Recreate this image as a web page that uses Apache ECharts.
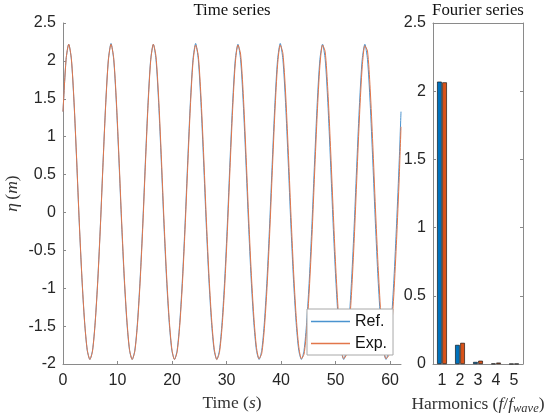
<!DOCTYPE html>
<html>
<head>
<meta charset="utf-8">
<script src="https://cdn.jsdelivr.net/npm/echarts@6/dist/echarts.min.js"></script>
<style>html,body{margin:0;padding:0;background:#fff;}#c{width:548px;height:418px;}</style>
</head>
<body>
<div id="c"></div>
<script>
// Time-series sample times (s)
var time = [0, 0.565,
1.05, 1.535, 2.02, 2.505, 2.99, 3.475, 3.96, 4.445, 4.93, 5.415, 5.9, 6.385, 6.87, 7.355, 7.84, 8.325,
8.81, 9.295, 9.78, 10.265, 10.75, 11.235, 11.72, 12.205, 12.69, 13.175, 13.66, 14.145, 14.63, 15.115, 15.6, 16.085,
16.57, 17.055, 17.54, 18.025, 18.51, 18.995, 19.48, 19.965, 20.45, 20.935, 21.42, 21.905, 22.39, 22.875, 23.36, 23.845,
24.33, 24.815, 25.3, 25.785, 26.27, 26.755, 27.24, 27.725, 28.21, 28.695, 29.18, 29.665, 30.15, 30.635, 31.12, 31.605,
32.09, 32.575, 33.06, 33.545, 34.03, 34.515, 35.0, 35.485, 35.97, 36.455, 36.94, 37.425, 37.91, 38.395, 38.88, 39.365,
39.85, 40.335, 40.82, 41.305, 41.79, 42.275, 42.76, 43.245, 43.73, 44.215, 44.7, 45.185, 45.67, 46.155, 46.64, 47.125,
47.61, 48.095, 48.58, 49.065, 49.55, 50.035, 50.52, 51.005, 51.49, 51.975, 52.46, 52.945, 53.43, 53.915, 54.4, 54.885,
55.37, 55.855, 56.34, 56.825, 57.31, 57.795, 58.28, 58.765, 59.25, 59.735, 60.22, 60.705, 61.19, 61.675,
62];

// Reference surface elevation (m)
var etaRef = [1.33, 2.02,
2.22, 2.02, 1.45, 0.68, -0.15, -0.88, -1.45, -1.82, -1.94, -1.82, -1.45, -0.88, -0.15, 0.68, 1.45, 2.02,
2.23, 2.02, 1.45, 0.68, -0.15, -0.88, -1.45, -1.82, -1.94, -1.82, -1.45, -0.88, -0.15, 0.68, 1.45, 2.02,
2.22, 2.02, 1.45, 0.68, -0.15, -0.88, -1.45, -1.82, -1.94, -1.82, -1.45, -0.88, -0.15, 0.68, 1.45, 2.02,
2.23, 2.02, 1.45, 0.68, -0.15, -0.88, -1.45, -1.82, -1.94, -1.82, -1.45, -0.88, -0.15, 0.68, 1.45, 2.02,
2.22, 2.02, 1.45, 0.68, -0.15, -0.88, -1.45, -1.82, -1.94, -1.82, -1.45, -0.88, -0.15, 0.68, 1.45, 2.02,
2.23, 2.02, 1.45, 0.68, -0.15, -0.88, -1.45, -1.82, -1.94, -1.82, -1.45, -0.88, -0.15, 0.68, 1.45, 2.02,
2.22, 2.02, 1.45, 0.68, -0.15, -0.88, -1.45, -1.82, -1.94, -1.82, -1.45, -0.88, -0.15, 0.68, 1.45, 2.02,
2.22, 2.02, 1.45, 0.68, -0.15, -0.88, -1.45, -1.82, -1.94, -1.82, -1.45, -0.88, -0.15, 0.68,
1.33];

// Experimental surface elevation (m)
var etaExp = [1.33, 2.02,
2.22, 2.03, 1.47, 0.70, -0.13, -0.86, -1.44, -1.81, -1.94, -1.83, -1.46, -0.90, -0.17, 0.66, 1.43, 2.01,
2.22, 2.04, 1.49, 0.73, -0.10, -0.84, -1.42, -1.81, -1.94, -1.83, -1.48, -0.92, -0.20, 0.63, 1.41, 2.00,
2.22, 2.06, 1.52, 0.76, -0.08, -0.82, -1.41, -1.80, -1.94, -1.84, -1.49, -0.94, -0.22, 0.60, 1.39, 1.98,
2.21, 2.07, 1.54, 0.79, -0.05, -0.80, -1.39, -1.79, -1.94, -1.85, -1.51, -0.97, -0.25, 0.58, 1.36, 1.97,
2.21, 2.09, 1.57, 0.81, -0.02, -0.77, -1.37, -1.78, -1.93, -1.86, -1.53, -0.99, -0.28, 0.55, 1.34, 1.95,
2.21, 2.10, 1.59, 0.84, 0.01, -0.75, -1.36, -1.77, -1.93, -1.87, -1.54, -1.01, -0.31, 0.52, 1.31, 1.94,
2.21, 2.12, 1.61, 0.87, 0.04, -0.73, -1.34, -1.76, -1.93, -1.88, -1.56, -1.04, -0.34, 0.49, 1.29, 1.92,
2.20, 2.13, 1.64, 0.90, 0.06, -0.70, -1.32, -1.75, -1.93, -1.89, -1.58, -1.06, -0.36, 0.46,
1.13];

// Fourier harmonics
var harmonics = ['1', '2', '3', '4', '5'];
var ampRef = [2.07, 0.140, 0.015, 0.003, 0.001];
var ampExp = [2.065, 0.155, 0.024, 0.010, 0.002];

function pairs(xs, ys) { var o = []; for (var i = 0; i < xs.length; i++) o.push([xs[i], ys[i]]); return o; }

var SANS = 'Liberation Sans, Arial, sans-serif';
var SERIF = 'Liberation Serif, Times New Roman, serif';
var AX = '#8a8a8a';
var TXT = '#262626';
var NAMEC = '#333';
var C_REF = '#4a93cf', C_EXP = '#e2764a';

var richName = {
  n: {fontFamily: SERIF, fontSize: 17.5, color: NAMEC},
  i: {fontFamily: SERIF, fontSize: 17.5, fontStyle: 'italic', color: NAMEC},
  s: {fontFamily: SERIF, fontSize: 12.5, fontStyle: 'italic', color: NAMEC, padding: [8, 0, 0, 0]}
};

var chart = echarts.init(document.getElementById('c'), null, {renderer: 'canvas'});
chart.setOption({
  animation: false,
  backgroundColor: '#fff',
  graphic: [
    {type: 'text', x: 232, y: 2, style: {text: 'Time series', font: '16.8px ' + SERIF, fill: '#111', textAlign: 'center'}},
    {type: 'text', x: 478, y: 2, style: {text: 'Fourier series', font: '16.8px ' + SERIF, fill: '#111', textAlign: 'center'}}
  ],
  legend: {
    orient: 'vertical', left: 307, top: 309,
    backgroundColor: '#fff', borderColor: '#a8a8a8', borderWidth: 1, borderRadius: 0,
    padding: [4, 6, 3, 4], itemGap: 5, itemWidth: 39, itemHeight: 1.4, icon: 'rect',
    textStyle: {fontFamily: SANS, fontSize: 16, color: '#111', lineHeight: 17},
    data: [
      {name: 'Ref.', itemStyle: {color: C_REF, borderWidth: 0, borderColor: C_REF}, lineStyle: {color: C_REF}},
      {name: 'Exp.', itemStyle: {color: C_EXP, borderWidth: 0, borderColor: C_EXP}, lineStyle: {color: C_EXP}}
    ]
  },
  grid: [
    {left: 63, right: 147, top: 23, bottom: 54, containLabel: false, outerBoundsMode: 'none'},
    {left: 433, right: 25, top: 23, bottom: 54, containLabel: false, outerBoundsMode: 'none'}
  ],
  xAxis: [
    {type: 'value', gridIndex: 0, min: 0, max: 62, interval: 10,
      axisLine: {onZero: false, lineStyle: {color: AX}}, axisTick: {inside: true, length: 3, lineStyle: {color: AX}},
      axisLabel: {fontFamily: SANS, fontSize: 16, color: TXT, margin: 9, showMaxLabel: false},
      splitLine: {show: false},
      name: '{n|Time (}{i|s}{n|)}', nameLocation: 'middle', nameGap: 30,
      nameTextStyle: {rich: richName}
    },
    {type: 'category', gridIndex: 1, data: harmonics, boundaryGap: true,
      axisLine: {onZero: false, lineStyle: {color: AX}}, axisTick: {inside: true, length: 3, alignWithLabel: true, lineStyle: {color: AX}},
      axisLabel: {fontFamily: SANS, fontSize: 16, color: TXT, margin: 9},
      name: '{n|Harmonics (}{i|f}{n|/}{i|f}{s|wave}{n|)}', nameLocation: 'middle', nameGap: 30,
      nameTextStyle: {rich: richName}
    },
    {type: 'category', gridIndex: 1, data: harmonics, position: 'top', boundaryGap: true,
      axisLine: {onZero: false, lineStyle: {color: AX}}, axisTick: {inside: true, length: 3, alignWithLabel: true, lineStyle: {color: AX}},
      axisLabel: {show: false}}
  ],
  yAxis: [
    {type: 'value', gridIndex: 0, min: -2, max: 2.5, interval: 0.5,
      axisLine: {show: true, onZero: false, lineStyle: {color: AX}}, axisTick: {show: true, inside: true, length: 3, lineStyle: {color: AX}},
      axisLabel: {fontFamily: SANS, fontSize: 16, color: TXT, margin: 7},
      splitLine: {show: false},
      name: '{i|η} {n|(}{i|m}{n|)}', nameLocation: 'middle', nameGap: 42, nameRotate: 90, nameMoveOverlap: false,
      nameTextStyle: {rich: richName}
    },
    {type: 'value', gridIndex: 1, min: 0, max: 2.5, interval: 0.5,
      axisLine: {show: true, onZero: false, lineStyle: {color: AX}}, axisTick: {show: true, inside: true, length: 3, lineStyle: {color: AX}},
      axisLabel: {fontFamily: SANS, fontSize: 16, color: TXT, margin: 7},
      splitLine: {show: false}},
    {type: 'value', gridIndex: 1, min: 0, max: 2.5, interval: 0.5, position: 'right',
      axisLine: {show: true, onZero: false, lineStyle: {color: AX}}, axisTick: {show: true, inside: true, length: 3, lineStyle: {color: AX}},
      axisLabel: {show: false}, splitLine: {show: false}}
  ],
  series: [
    {name: 'Ref.', type: 'line', xAxisIndex: 0, yAxisIndex: 0, data: pairs(time, etaRef),
      symbol: 'none', smooth: 0.25, lineStyle: {color: C_REF, width: 1}, itemStyle: {color: C_REF}},
    {name: 'Exp.', type: 'line', xAxisIndex: 0, yAxisIndex: 0, data: pairs(time, etaExp),
      symbol: 'none', smooth: 0.25, lineStyle: {color: C_EXP, width: 1}, itemStyle: {color: C_EXP}},
    {name: 'RefBar', type: 'bar', xAxisIndex: 1, yAxisIndex: 1, data: ampRef, barWidth: 4.6, barGap: '12%',
      itemStyle: {color: '#0072BD', borderColor: '#000', borderWidth: 0.6}},
    {name: 'ExpBar', type: 'bar', xAxisIndex: 1, yAxisIndex: 1, data: ampExp, barWidth: 4.6, barGap: '12%',
      itemStyle: {color: '#D95319', borderColor: '#000', borderWidth: 0.6}}
  ]
});
</script>
</body>
</html>
